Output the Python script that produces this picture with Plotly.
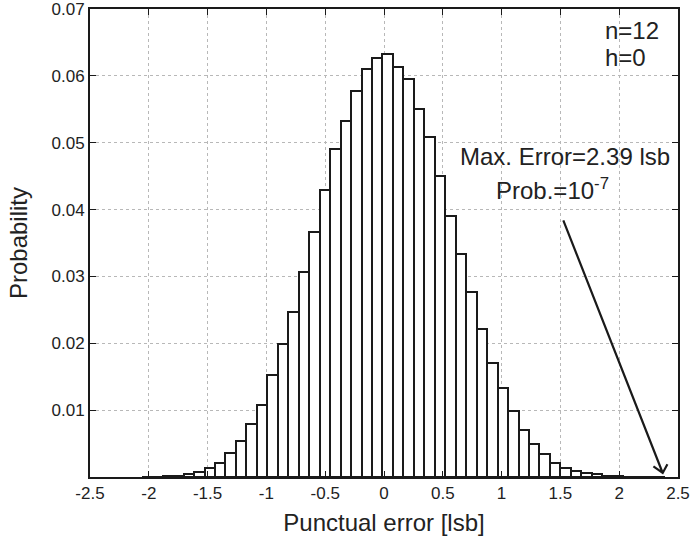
import plotly.graph_objects as go

# Histogram of the punctual error (50 bins between the min and the max error)
bin_centers = [
    -2.0155, -1.9265, -1.8375, -1.7485, -1.6595, -1.5705, -1.4815, -1.3925, -1.3035, -1.2145,
    -1.1255, -1.0365, -0.9475, -0.8585, -0.7695, -0.6805, -0.5915, -0.5025, -0.4135, -0.3245,
    -0.2355, -0.1465, -0.0575, 0.0315, 0.1205, 0.2095, 0.2985, 0.3875, 0.4765, 0.5655,
    0.6545, 0.7435, 0.8325, 0.9215, 1.0105, 1.0995, 1.1885, 1.2775, 1.3665, 1.4555,
    1.5445, 1.6335, 1.7225, 1.8115, 1.9005, 1.9895, 2.0785, 2.1675, 2.2565, 2.3455,
]
probability = [
    0.00003, 0.00005, 0.0001, 0.0002, 0.0004, 0.0008, 0.0013, 0.0021, 0.0036, 0.0054,
    0.0079, 0.0107, 0.0152, 0.0199, 0.0247, 0.0306, 0.0366, 0.0429, 0.0491, 0.0532,
    0.0578, 0.0611, 0.0627, 0.0632, 0.0614, 0.0596, 0.0551, 0.0508, 0.0450, 0.0391,
    0.0334, 0.0276, 0.0221, 0.0171, 0.0133, 0.0099, 0.0070, 0.0050, 0.0034, 0.0021,
    0.0014, 0.0009, 0.0006, 0.0004, 0.0002, 0.0001, 0.00007, 0.00004, 0.00002, 0.00001,
]
bin_width = 0.089

x_ticks = [-2.5, -2, -1.5, -1, -0.5, 0, 0.5, 1, 1.5, 2, 2.5]
x_tick_labels = ["-2.5", "-2", "-1.5", "-1", "-0.5", "0", "0.5", "1", "1.5", "2", "2.5"]
y_ticks = [0.01, 0.02, 0.03, 0.04, 0.05, 0.06, 0.07]
y_tick_labels = ["0.01", "0.02", "0.03", "0.04", "0.05", "0.06", "0.07"]

max_error_tip = (2.37, 0.0006)

FONT = "Liberation Sans, Arial, Helvetica, sans-serif"
INK = "#1a1a1a"
TEXT = "#222222"

fig = go.Figure()
fig.add_trace(go.Bar(
    x=bin_centers,
    y=probability,
    width=bin_width,
    marker=dict(color="white", line=dict(color=INK, width=2)),
    showlegend=False,
    hoverinfo="x+y",
))

axis_common = dict(
    showline=True, linecolor=INK, linewidth=2, mirror="ticks",
    ticks="inside", ticklen=6, tickcolor=INK, tickwidth=1.2,
    showgrid=True, gridcolor="#b8b8b8", griddash="dot", gridwidth=1,
    zeroline=False, automargin=False,
    tickfont=dict(family=FONT, size=17, color=TEXT),
)

fig.update_xaxes(
    range=[-2.5, 2.5], tickmode="array", tickvals=x_ticks, ticktext=x_tick_labels,
    ticklabeloverflow="allow",
    title=dict(text="Punctual error [lsb]", font=dict(family=FONT, size=24, color=TEXT), standoff=12),
    **axis_common,
)
fig.update_yaxes(
    range=[0, 0.07], tickmode="array", tickvals=y_ticks, ticktext=y_tick_labels,
    ticklabeloverflow="allow",
    title=dict(text="Probability", font=dict(family=FONT, size=24, color=TEXT), standoff=17),
    **axis_common,
)

text_font = dict(family=FONT, size=24, color=TEXT)
fig.add_annotation(xref="paper", yref="paper", x=0.873, y=0.953, text="n=12",
                   showarrow=False, xanchor="left", yanchor="middle", font=text_font)
fig.add_annotation(xref="paper", yref="paper", x=0.873, y=0.897, text="h=0",
                   showarrow=False, xanchor="left", yanchor="middle", font=text_font)
fig.add_annotation(xref="paper", yref="paper", x=0.808, y=0.6856, text="Max. Error=2.39 lsb",
                   showarrow=False, xanchor="center", yanchor="middle", font=text_font)
fig.add_annotation(xref="paper", yref="paper", x=0.787, y=0.616, text="Prob.=10<sup>-7</sup>",
                   showarrow=False, xanchor="center", yanchor="middle", font=text_font)

# Arrow from the label down to the maximum error, drawn in pixel offsets from its tip
fig.add_shape(
    type="path",
    xref="x", yref="y",
    xsizemode="pixel", ysizemode="pixel",
    xanchor=max_error_tip[0], yanchor=max_error_tip[1],
    path="M -99.4,252.7 L 0,0 M -9.3,6.7 L 0,0 L 4.7,8.7",
    line=dict(color=INK, width=2.2),
)

fig.update_layout(
    width=690, height=540,
    margin=dict(l=90, r=12, t=9, b=63, autoexpand=False),
    paper_bgcolor="white", plot_bgcolor="white",
    bargap=0,
    font=dict(family=FONT, color=TEXT),
)

fig.write_html("out.html")
